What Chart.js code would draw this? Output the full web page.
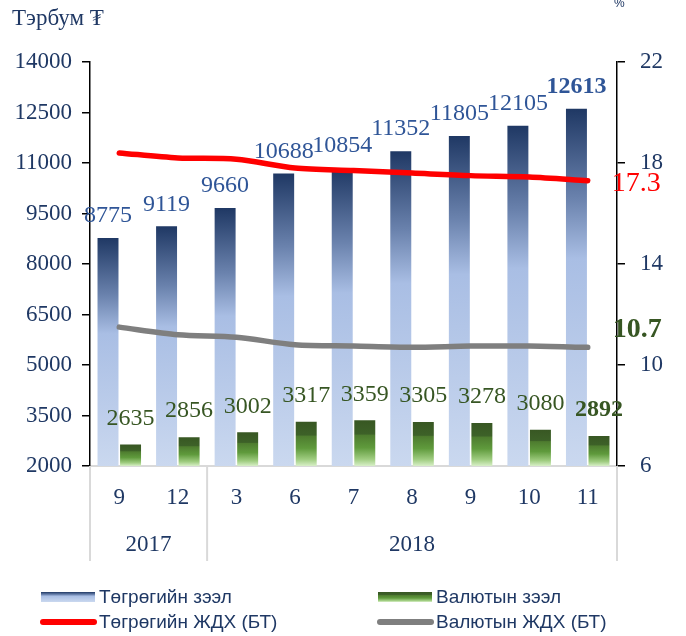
<!DOCTYPE html>
<html>
<head>
<meta charset="utf-8">
<script src="https://cdn.jsdelivr.net/npm/chart.js@4.4.1/dist/chart.umd.min.js"></script>
<style>
  html, body { margin: 0; padding: 0; background: #fff; }
  #wrap { width: 686px; height: 636px; }
</style>
</head>
<body>
<div id="wrap"><canvas id="loansChart"></canvas></div>
<script>
// --- data ---
const months = ['9', '12', '3', '6', '7', '8', '9', '10', '11'];
const yearNames = ['2017', '2018'];
const yearOfMonth = [0, 0, 1, 1, 1, 1, 1, 1, 1];
const mntLoans = [8775, 9119, 9660, 10688, 10854, 11352, 11805, 12105, 12613];
const fxLoans = [2635, 2856, 3002, 3317, 3359, 3305, 3278, 3080, 2892];
const mntRate = [18.4, 18.2, 18.15, 17.8, 17.7, 17.6, 17.5, 17.45, 17.3];
const fxRate = [11.5, 11.2, 11.1, 10.8, 10.75, 10.7, 10.75, 10.75, 10.7];
const leftTicks = [2000, 3500, 5000, 6500, 8000, 9500, 11000, 12500, 14000];
const rightTicks = [6, 10, 14, 18, 22];

const NAVY = '#1F3864';
const SERIF = "'Liberation Serif', 'Times New Roman', 'DejaVu Serif', serif";
const SANS = "'Liberation Sans', Arial, sans-serif";

const blueStops = [[0, '#1f3864'], [0.25, '#6a82ad'], [0.42, '#a9bee4'], [1, '#cad8ef']];
const greenStops = [[0, '#385723'], [0.3, '#3d6128'], [0.33, '#4e7c2f'], [0.6, '#5f9a3c'], [0.85, '#9fcc80'], [1, '#d8efc8']];

function barGradient(stops) {
    return ctx => {
        const chart = ctx.chart;
        if (!chart.chartArea || ctx.type !== 'data') return stops[2][1];
        const ys = chart.scales.y;
        const top = ys.getPixelForValue(ctx.raw);
        const bottom = ys.getPixelForValue(ys.min);
        const g = chart.ctx.createLinearGradient(0, top, 0, bottom);
        stops.forEach(([o, c]) => g.addColorStop(o, c));
        return g;
    };
}

// value labels above bars, end labels for the lines
const valueLabels = {
    id: 'valueLabels',
    afterDatasetsDraw(chart) {
        const ctx = chart.ctx;
        chart.data.datasets.forEach((ds, i) => {
            const o = ds.valueLabels;
            if (!o) return;
            const meta = chart.getDatasetMeta(i);
            meta.data.forEach((el, j) => {
                const last = j === meta.data.length - 1;
                if (o.lastOnly && !last) return;
                ctx.save();
                ctx.font = ((o.bold || (o.boldLast && last)) ? 'bold ' : '') + (o.size || 24) + 'px ' + SERIF;
                ctx.fillStyle = o.color;
                ctx.textAlign = o.align || 'center';
                ctx.textBaseline = 'middle';
                ctx.fillText(o.text ? o.text(ds.data[j]) : String(ds.data[j]), el.x + (o.dx || 0), el.y + (o.dy || 0));
                ctx.restore();
            });
        });
    }
};

// year row, group separators, unit captions and legend
const frame = {
    id: 'frame',
    afterDraw(chart) {
        const ctx = chart.ctx;
        const area = chart.chartArea;
        const xs = chart.scales.x;
        const sepBottom = area.bottom + 95;

        // separators between year groups
        const seps = [area.left, area.right];
        for (let i = 1; i < months.length; i++) {
            if (yearOfMonth[i] !== yearOfMonth[i - 1]) {
                seps.push((xs.getPixelForValue(i - 1) + xs.getPixelForValue(i)) / 2);
            }
        }
        ctx.save();
        ctx.strokeStyle = '#D9D9D9';
        ctx.lineWidth = 2;
        seps.forEach(x => {
            ctx.beginPath();
            ctx.moveTo(x, area.bottom);
            ctx.lineTo(x, sepBottom);
            ctx.stroke();
        });

        // year labels centred on their groups
        ctx.font = '23px ' + SERIF;
        ctx.fillStyle = NAVY;
        ctx.textAlign = 'center';
        ctx.textBaseline = 'middle';
        yearNames.forEach((name, k) => {
            const idx = yearOfMonth.map((y, i) => y === k ? i : -1).filter(i => i >= 0);
            const a = idx[0], b = idx[idx.length - 1];
            const left = a === 0 ? area.left : (xs.getPixelForValue(a - 1) + xs.getPixelForValue(a)) / 2;
            const right = b === months.length - 1 ? area.right : (xs.getPixelForValue(b) + xs.getPixelForValue(b + 1)) / 2;
            ctx.fillText(name, (left + right) / 2, area.bottom + 79);
        });

        // unit captions
        ctx.textAlign = 'left';
        ctx.fillText('Тэрбум ₮', 12, 19);
        ctx.font = '12px ' + SANS;
        ctx.fillText('%', 614, 4);

        // legend
        const items = [
            { ds: 0, x: 41, y: 597 },
            { ds: 1, x: 378, y: 597 },
            { ds: 2, x: 41, y: 622 },
            { ds: 3, x: 378, y: 622 }
        ];
        ctx.font = '19px ' + SANS;
        items.forEach(it => {
            const ds = chart.data.datasets[it.ds];
            if (ds.type === 'line') {
                ctx.strokeStyle = ds.borderColor;
                ctx.lineWidth = 6;
                ctx.lineCap = 'round';
                ctx.beginPath();
                ctx.moveTo(it.x + 2, it.y);
                ctx.lineTo(it.x + 53, it.y);
                ctx.stroke();
            } else {
                const stops = it.ds === 0 ? blueStops : greenStops;
                const g = ctx.createLinearGradient(0, it.y - 5, 0, it.y + 5);
                stops.forEach(([o, c]) => g.addColorStop(o, c));
                ctx.fillStyle = g;
                ctx.fillRect(it.x, it.y - 5, 54, 10);
            }
            ctx.fillStyle = NAVY;
            ctx.textBaseline = 'middle';
            ctx.fillText(ds.label, it.x + 58, it.y + 1);
        });
        ctx.restore();
    }
};

const tickFont = { family: SERIF, size: 23 };

new Chart(document.getElementById('loansChart'), {
    data: {
        labels: months,
        datasets: [
            {
                type: 'bar',
                label: 'Төгрөгийн зээл',
                data: mntLoans,
                yAxisID: 'y',
                order: 2,
                backgroundColor: barGradient(blueStops),
                categoryPercentage: 0.77,
                barPercentage: 0.93,
                valueLabels: { color: '#2F5597', dy: -22, boldLast: true }
            },
            {
                type: 'bar',
                label: 'Валютын зээл',
                data: fxLoans,
                yAxisID: 'y',
                order: 2,
                backgroundColor: barGradient(greenStops),
                categoryPercentage: 0.77,
                barPercentage: 0.93,
                valueLabels: { color: '#375623', dy: -26, boldLast: true }
            },
            {
                type: 'line',
                label: 'Төгрөгийн ЖДХ (БТ)',
                data: mntRate,
                yAxisID: 'y1',
                order: 0,
                borderColor: '#FF0000',
                borderWidth: 5.5,
                borderCapStyle: 'round',
                pointRadius: 0,
                tension: 0.3,
                valueLabels: { color: '#FF0000', lastOnly: true, size: 28, align: 'left', dx: 24, dy: 3, text: v => v.toFixed(1) }
            },
            {
                type: 'line',
                label: 'Валютын ЖДХ (БТ)',
                data: fxRate,
                yAxisID: 'y1',
                order: 0,
                borderColor: '#7F7F7F',
                borderWidth: 5.5,
                borderCapStyle: 'round',
                pointRadius: 0,
                tension: 0.3,
                valueLabels: { color: '#375623', lastOnly: true, bold: true, size: 28, align: 'left', dx: 25, dy: -18, text: v => v.toFixed(1) }
            }
        ]
    },
    options: {
        responsive: true,
        maintainAspectRatio: false,
        animation: false,
        layout: { padding: { top: 62 } },
        plugins: {
            legend: { display: false },
            tooltip: { enabled: false }
        },
        scales: {
            x: {
                grid: { display: false, drawTicks: false },
                border: { color: '#D9D9D9', width: 2 },
                ticks: { color: NAVY, font: tickFont, padding: 18, maxRotation: 0, autoSkip: false },
                afterFit: s => { s.height = 170; }
            },
            y: {
                position: 'left',
                min: 2000,
                max: 14000,
                afterBuildTicks: s => { s.ticks = leftTicks.map(v => ({ value: v })); },
                grid: { drawOnChartArea: false, tickLength: 8, color: '#000', lineWidth: 1.5 },
                border: { color: '#000', width: 1.5 },
                ticks: { color: NAVY, font: tickFont, padding: 10, callback: v => String(v) },
                afterFit: s => { s.width = 90; }
            },
            y1: {
                position: 'right',
                min: 6,
                max: 22,
                afterBuildTicks: s => { s.ticks = rightTicks.map(v => ({ value: v })); },
                grid: { drawOnChartArea: false, tickLength: 8, color: '#000', lineWidth: 1.5 },
                border: { color: '#000', width: 1.5 },
                ticks: { color: NAVY, font: tickFont, padding: 15, callback: v => String(v) },
                afterFit: s => { s.width = 69; }
            }
        }
    },
    plugins: [valueLabels, frame]
});
</script>
</body>
</html>
